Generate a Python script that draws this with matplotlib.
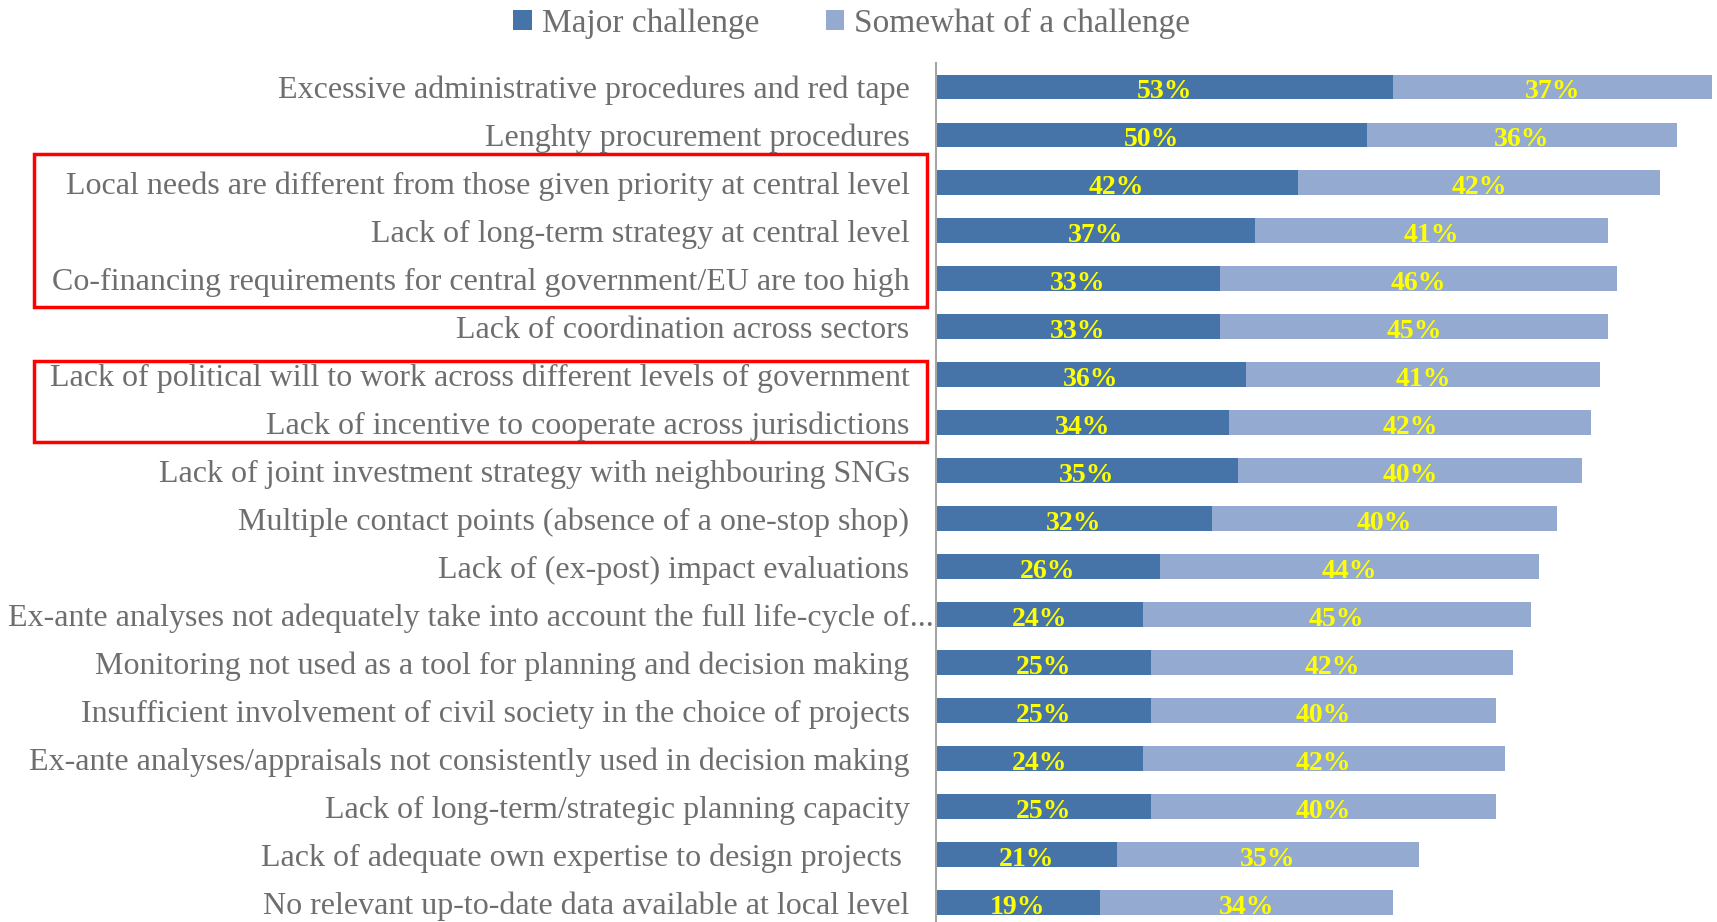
import matplotlib
matplotlib.use('Agg')
import matplotlib.pyplot as plt
from matplotlib.patches import Rectangle
from matplotlib.transforms import blended_transform_factory, ScaledTranslation
import numpy as np

categories = [
    "Excessive administrative procedures and red tape",
    "Lenghty procurement procedures",
    "Local needs are different from those given priority at central level",
    "Lack of long-term strategy at central level",
    "Co-financing requirements for central government/EU are too high",
    "Lack of coordination across sectors",
    "Lack of political will to work across different levels of government",
    "Lack of incentive to cooperate across jurisdictions",
    "Lack of joint investment strategy with neighbouring SNGs",
    "Multiple contact points (absence of a one-stop shop)",
    "Lack of (ex-post) impact evaluations",
    "Ex-ante analyses not adequately take into account the full life-cycle of...",
    "Monitoring not used as a tool for planning and decision making",
    "Insufficient involvement of civil society in the choice of projects",
    "Ex-ante analyses/appraisals not consistently used in decision making",
    "Lack of long-term/strategic planning capacity",
    "Lack of adequate own expertise to design projects ",
    "No relevant up-to-date data available at local level",
]
major = [53, 50, 42, 37, 33, 33, 36, 34, 35, 32, 26, 24, 25, 25, 24, 25, 21, 19]
somewhat = [37, 36, 42, 41, 46, 45, 41, 42, 40, 40, 44, 45, 42, 40, 42, 40, 35, 34]
series_names = ["Major challenge", "Somewhat of a challenge"]

dark = '#4674a8'
light = '#95aad1'
text_grey = '#6e6e6e'

plt.rcParams['font.family'] = ['Liberation Serif', 'DejaVu Serif']

fig = plt.figure(figsize=(17.17, 9.22), dpi=100)
ax = fig.add_axes([0.545, 0.0, 0.455, 859 / 922])

y = np.arange(len(categories))
b1 = ax.barh(y, major, height=0.52, color=dark, label=series_names[0])
b2 = ax.barh(y, somewhat, left=major, height=0.52, color=light, label=series_names[1])

for i in range(len(categories)):
    ax.text(major[i] / 2, i + 0.09, f"{major[i]}%", ha='center', va='center',
            color='#ffff00', fontsize=20, fontweight='bold')
    ax.text(major[i] + somewhat[i] / 2, i + 0.09, f"{somewhat[i]}%", ha='center',
            va='center', color='#ffff00', fontsize=20, fontweight='bold')

ax.set_xlim(0, 90.6)
ax.set_ylim(17.4, -0.5)
ax.set_xticks([])
ax.set_yticks(y)
ax.set_yticklabels(categories, fontsize=23, color=text_grey)
ax.tick_params(axis='y', length=0, pad=19)
for s in ['top', 'right', 'bottom']:
    ax.spines[s].set_visible(False)
ax.spines['left'].set_color('#a6a6a6')
ax.spines['left'].set_linewidth(1.5)

# long label sits closer to the axis in the original
lab = ax.get_yticklabels()[11]
lab.set_transform(lab.get_transform() + ScaledTranslation(0.24, 0, fig.dpi_scale_trans))

# red boxes around highlighted labels
tr = blended_transform_factory(fig.transFigure, ax.transData)
for top, bottom in [(1.4, 4.58), (5.7, 7.4)]:
    ax.add_patch(Rectangle((34 / 1717, top), (927 - 34) / 1717, bottom - top,
                           transform=tr, fill=False, edgecolor='#ff0000',
                           linewidth=2.5, clip_on=False))

fig.legend(handles=[b1, b2], loc='center', bbox_to_anchor=(0.496, 0.975), ncol=2,
           frameon=False, fontsize=24, labelcolor=text_grey, handlelength=0.55,
           handleheight=0.55, handletextpad=0.3, columnspacing=2.0)

fig.savefig('out.png', dpi=100)
